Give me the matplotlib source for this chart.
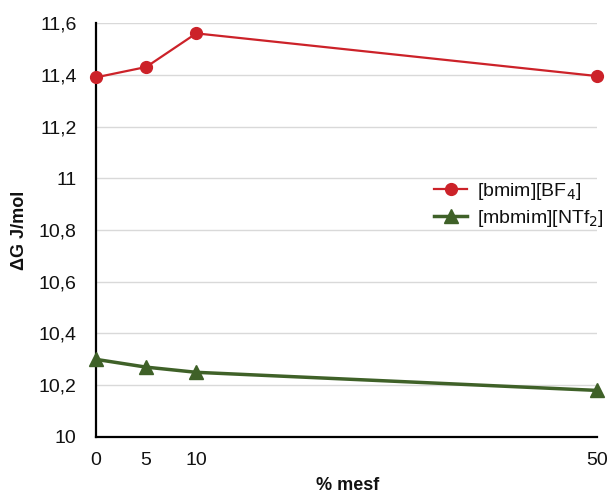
import matplotlib
matplotlib.use("Agg")
import matplotlib.pyplot as plt
from matplotlib.ticker import FuncFormatter

plt.rcParams['font.family'] = ['Liberation Sans', 'DejaVu Sans']

x = [0, 5, 10, 50]
bmim_bf4 = [11.39, 11.43, 11.56, 11.395]
mbmim_ntf2 = [10.30, 10.27, 10.25, 10.18]
yticks = [10.0, 10.2, 10.4, 10.6, 10.8, 11.0, 11.2, 11.4, 11.6]
xticks = [0, 5, 10, 50]
labels = ["[bmim][BF$_4$]", "[mbmim][NTf$_2$]"]

fig = plt.figure(figsize=(6.08, 4.94), dpi=100)
ax = fig.add_axes([0.158, 0.1154, 0.824, 0.838])

red = '#cc2229'
green = '#3f6128'
ax.plot(x, bmim_bf4, color=red, lw=1.6, marker='o', ms=8.5, label=labels[0], clip_on=False, zorder=3)
ax.plot(x, mbmim_ntf2, color=green, lw=2.5, marker='^', ms=10, label=labels[1], clip_on=False, zorder=3)

ax.set_xlim(0, 50)
ax.set_ylim(10, 11.6)
ax.set_yticks(yticks)
ax.set_xticks(xticks)

def fmt(v, pos):
    s = ('%.1f' % v).rstrip('0').rstrip('.')
    return s.replace('.', ',')
ax.yaxis.set_major_formatter(FuncFormatter(fmt))
ax.xaxis.set_major_formatter(FuncFormatter(lambda v, p: '%d' % v))

ax.grid(axis='y', color='#d9d9d9', lw=1)
ax.set_axisbelow(True)
for s in ['top', 'right']:
    ax.spines[s].set_visible(False)
for s in ['left', 'bottom']:
    ax.spines[s].set_color('black')
    ax.spines[s].set_linewidth(1.6)
ax.tick_params(axis='both', length=0, labelsize=14, colors='#111111')
ax.tick_params(axis='y', pad=14)
ax.tick_params(axis='x', pad=11)

fig.text(20/608, 1-230/494, 'ΔG J/mol', rotation=90, ha='center', va='center',
         fontsize=13, fontweight='bold', color='#111111')
fig.text(348/608, 1-485/494, '% mesf', ha='center', va='center',
         fontsize=13, fontweight='bold', color='#111111')

leg = ax.legend(loc='center left', bbox_to_anchor=(0.64, 0.56), frameon=False,
                fontsize=14, handlelength=1.7, labelspacing=0.3, handletextpad=0.5)
for t in leg.get_texts():
    t.set_color('#111111')

fig.savefig('out.png', dpi=100)
